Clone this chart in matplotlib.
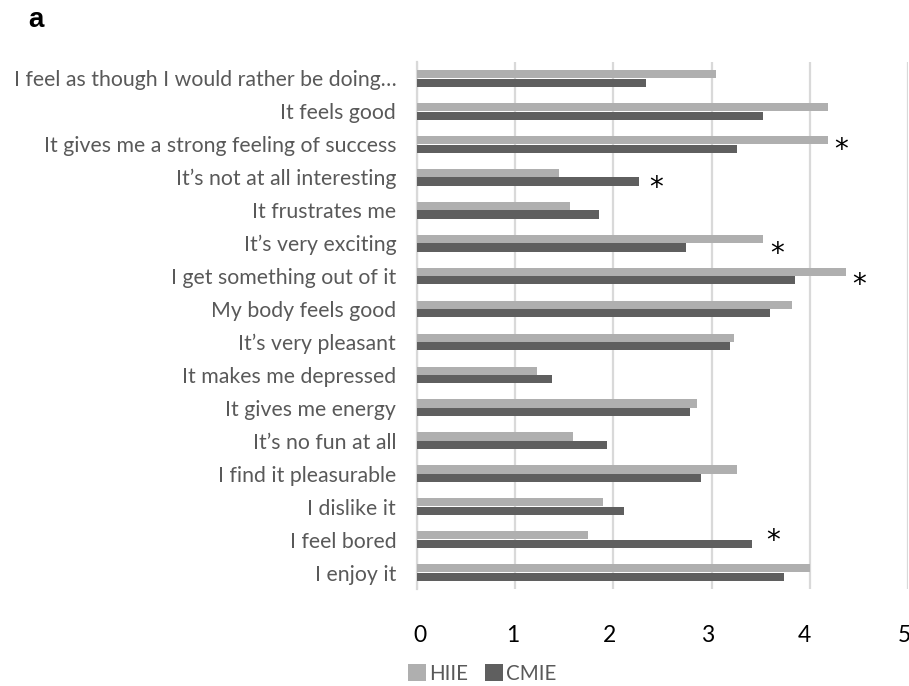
import matplotlib
matplotlib.use("Agg")
import matplotlib.pyplot as plt
from matplotlib.transforms import ScaledTranslation
import numpy as np

# Item wording (top to bottom) and mean scores for each protocol
items = [
    "I feel as though I would rather be doing\u2026",
    "It feels good",
    "It gives me a strong feeling of success",
    "It\u2019s not at all interesting",
    "It frustrates me",
    "It\u2019s very exciting",
    "I get something out of it",
    "My body feels good",
    "It\u2019s very pleasant",
    "It makes me depressed",
    "It gives me energy",
    "It\u2019s no fun at all",
    "I find it pleasurable",
    "I dislike it",
    "I feel bored",
    "I enjoy it",
]
hiie = [3.04, 4.19, 4.19, 1.45, 1.56, 3.52, 4.37, 3.82,
        3.23, 1.22, 2.85, 1.59, 3.26, 1.89, 1.74, 4.00]
cmie = [2.33, 3.52, 3.26, 2.26, 1.85, 2.74, 3.85, 3.59,
        3.19, 1.37, 2.78, 1.93, 2.89, 2.11, 3.41, 3.74]
# Items with a significant difference between protocols
significant = ["It gives me a strong feeling of success",
               "It\u2019s not at all interesting",
               "It\u2019s very exciting",
               "I get something out of it",
               "I feel bored"]
x_ticks = [0, 1, 2, 3, 4, 5]

HIIE_COL = "#afafaf"
CMIE_COL = "#5f5f5f"
TEXT_COL = "#595959"
FONT = ["Lato", "DejaVu Sans"]

W, H = 909, 686
fig = plt.figure(figsize=(W / 100, H / 100), dpi=100)
ax = fig.add_axes([417 / W, 1 - 589 / H, 491 / W, 527 / H])

y = np.arange(len(items))
bh = 0.25
ax.barh(y - 0.13, hiie, height=bh, color=HIIE_COL, label="HIIE", zorder=3)
ax.barh(y + 0.13, cmie, height=bh, color=CMIE_COL, label="CMIE", zorder=3)

ax.set_xlim(0, 5)
ax.set_ylim(len(items) - 0.5, -0.5)
ax.set_xticks(x_ticks)
ax.set_xticklabels([str(t) for t in x_ticks], fontsize=16.5, family=FONT,
                   color="black")
ax.set_yticks(y)
ax.set_yticklabels(items, fontsize=15.3, family=FONT, color=TEXT_COL)
ax.tick_params(axis="both", length=0)
ax.tick_params(axis="x", pad=26)
ax.tick_params(axis="y", pad=15)

# Value labels sit on a slightly tighter pitch than the gridlines
label_shift = [3, -2, -4, -4, -5, -4]
for lab, dx in zip(ax.get_xticklabels(), label_shift):
    lab.set_transform(lab.get_transform()
                      + ScaledTranslation(dx / 100, 0, fig.dpi_scale_trans))

ax.grid(axis="x", color="#d9d9d9", linewidth=1.6, zorder=0)
for side in ["top", "right", "bottom"]:
    ax.spines[side].set_visible(False)
ax.spines["left"].set_color("#d9d9d9")
ax.spines["left"].set_linewidth(1.6)

# Significance markers placed just past the longer bar
star_dx = {2: 13, 3: 17, 5: 14, 6: 13, 14: 21}
star_dy = {2: 0, 3: -5, 5: -5, 6: -3, 14: 4}
for name in significant:
    i = items.index(name)
    top = max(hiie[i], cmie[i])
    ax.annotate("*", xy=(top, i),
                xytext=(star_dx[i] * 0.72, star_dy[i] * 0.72 - 4.1),
                textcoords="offset points", ha="center", va="center",
                fontsize=20, family=["DejaVu Sans"], color="black")

fig.text(35.5 / W, 1 - 20 / H, "a", fontsize=20, fontweight="bold",
         family=["Liberation Sans", "DejaVu Sans"], va="center", ha="center")

leg = fig.legend(loc="center", bbox_to_anchor=(482 / W, 1 - 674 / H), ncol=2,
                 frameon=False, handlelength=0.9, handleheight=0.9,
                 handletextpad=0.15, columnspacing=0.8,
                 prop={"family": FONT, "size": 14.8})
for t in leg.get_texts():
    t.set_color(TEXT_COL)

fig.savefig("out.png", dpi=100, facecolor="white")
